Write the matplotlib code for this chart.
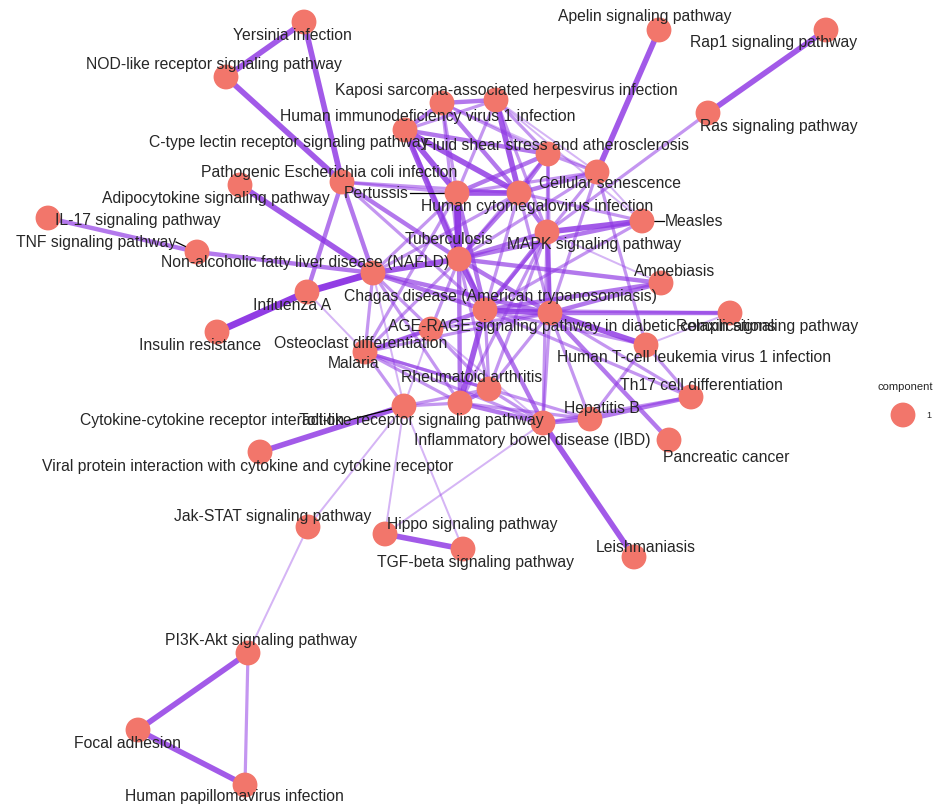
import numpy as np
import matplotlib
matplotlib.use("Agg")
import matplotlib.pyplot as plt
from matplotlib.collections import LineCollection
from matplotlib.colors import to_rgb

# --- noeuds (position du layout, en pixels de l'image) ---
node_ids = ["YER", "NOD", "KSHV", "HIV", "CTL", "FSS", "CSE", "ECO", "ADI", "PER",
            "HCMV", "IL17", "MEA", "MAPK", "TNF", "TB", "NAF", "AMO", "FLU", "CHA",
            "AGE", "REL", "OST", "INS", "HTLV", "MAL", "RA", "TH17", "TLR", "CCR",
            "HBV", "IBD", "PAN", "VPI", "JAK", "HIP", "TGF", "LEI", "PI3K", "FOC",
            "HPV", "APE", "RAP", "RAS"]
node_labels = ["Yersinia infection", "NOD-like receptor signaling pathway",
               "Kaposi sarcoma-associated herpesvirus infection",
               "Human immunodeficiency virus 1 infection",
               "C-type lectin receptor signaling pathway",
               "Fluid shear stress and atherosclerosis", "Cellular senescence",
               "Pathogenic Escherichia coli infection", "Adipocytokine signaling pathway",
               "Pertussis", "Human cytomegalovirus infection", "IL-17 signaling pathway",
               "Measles", "MAPK signaling pathway", "TNF signaling pathway", "Tuberculosis",
               "Non-alcoholic fatty liver disease (NAFLD)", "Amoebiasis", "Influenza A",
               "Chagas disease (American trypanosomiasis)",
               "AGE-RAGE signaling pathway in diabetic complications",
               "Relaxin signaling pathway", "Osteoclast differentiation", "Insulin resistance",
               "Human T-cell leukemia virus 1 infection", "Malaria", "Rheumatoid arthritis",
               "Th17 cell differentiation", "Toll-like receptor signaling pathway",
               "Cytokine-cytokine receptor interaction", "Hepatitis B",
               "Inflammatory bowel disease (IBD)", "Pancreatic cancer",
               "Viral protein interaction with cytokine and cytokine receptor",
               "Jak-STAT signaling pathway", "Hippo signaling pathway",
               "TGF-beta signaling pathway", "Leishmaniasis", "PI3K-Akt signaling pathway",
               "Focal adhesion", "Human papillomavirus infection", "Apelin signaling pathway",
               "Rap1 signaling pathway", "Ras signaling pathway"]
node_x = [304, 226, 496, 442, 405, 548, 597, 342, 240, 457,
          519, 48, 642, 547, 197, 459, 373, 661, 307, 485,
          550, 730, 431, 217, 646, 365, 489, 691, 460, 404,
          590, 543, 669, 260, 308, 385, 463, 634, 248, 138,
          245, 659, 826, 708]
node_y = [22, 77, 100, 103, 130, 154, 172, 182, 185, 193,
          193, 218, 221, 232, 252, 259, 273, 283, 292, 310,
          313, 313, 329, 332, 345, 352, 389, 397, 403, 406,
          419, 423, 440, 452, 527, 534, 549, 557, 653, 730,
          785, 30, 30, 113]

# --- aretes (source, cible, poids) ---
edges = [
    ("YER", "NOD", 4), ("YER", "ECO", 4), ("NOD", "ECO", 4), ("ADI", "NAF", 4),
    ("IL17", "TNF", 3), ("TNF", "NAF", 3), ("INS", "FLU", 5), ("FLU", "NAF", 5),
    ("ECO", "NAF", 3), ("ECO", "FLU", 3), ("ECO", "TB", 3), ("ECO", "PER", 2),
    ("ECO", "CHA", 2), ("ECO", "HCMV", 2),
    ("APE", "CSE", 4), ("RAP", "RAS", 4), ("RAS", "MAPK", 2),
    ("CTL", "HIV", 3), ("CTL", "KSHV", 2), ("CTL", "PER", 4), ("CTL", "HCMV", 4),
    ("CTL", "TB", 4), ("CTL", "FSS", 3), ("CTL", "CHA", 2),
    ("HIV", "KSHV", 3), ("HIV", "HCMV", 3), ("HIV", "PER", 2), ("HIV", "FSS", 2),
    ("HIV", "CSE", 1), ("HIV", "TB", 2),
    ("KSHV", "HCMV", 4), ("KSHV", "FSS", 2), ("KSHV", "CSE", 1), ("KSHV", "MEA", 1),
    ("KSHV", "PER", 2), ("KSHV", "MAPK", 2),
    ("FSS", "HCMV", 3), ("FSS", "PER", 3), ("FSS", "AGE", 2), ("FSS", "TB", 2),
    ("FSS", "MAPK", 2), ("FSS", "CSE", 2),
    ("CSE", "HCMV", 3), ("CSE", "PER", 2), ("CSE", "TB", 2), ("CSE", "CHA", 2),
    ("CSE", "MEA", 1), ("CSE", "HTLV", 2), ("CSE", "AGE", 2),
    ("PER", "HCMV", 4), ("PER", "TB", 5), ("PER", "NAF", 2), ("PER", "CHA", 3),
    ("PER", "MAL", 2),
    ("HCMV", "TB", 3), ("HCMV", "MAPK", 3), ("HCMV", "MEA", 2), ("HCMV", "CHA", 2),
    ("HCMV", "AGE", 2), ("HCMV", "NAF", 2),
    ("MEA", "MAPK", 4), ("MEA", "TB", 3), ("MEA", "CHA", 2),
    ("MAPK", "TB", 3), ("MAPK", "CHA", 3), ("MAPK", "AGE", 3), ("MAPK", "AMO", 1),
    ("MAPK", "RA", 2), ("MAPK", "IBD", 2), ("MAPK", "TLR", 2),
    ("TB", "NAF", 4), ("TB", "CHA", 4), ("TB", "AGE", 3), ("TB", "OST", 2),
    ("TB", "MAL", 2), ("TB", "AMO", 3), ("TB", "TLR", 3), ("TB", "RA", 2),
    ("NAF", "CHA", 3), ("NAF", "AGE", 3), ("NAF", "MAL", 2), ("NAF", "OST", 2),
    ("NAF", "TLR", 2),
    ("AMO", "CHA", 3), ("AMO", "AGE", 3),
    ("CHA", "AGE", 4), ("CHA", "REL", 2), ("CHA", "TLR", 4), ("CHA", "MAL", 3),
    ("CHA", "IBD", 3), ("CHA", "RA", 2), ("CHA", "HTLV", 2), ("CHA", "TH17", 2),
    ("AGE", "REL", 3), ("AGE", "HTLV", 4), ("AGE", "TH17", 2), ("AGE", "HBV", 2),
    ("AGE", "PAN", 3), ("AGE", "RA", 2), ("AGE", "IBD", 2), ("AGE", "MAL", 2),
    ("AGE", "OST", 2),
    ("HTLV", "TH17", 2), ("HTLV", "HBV", 2),
    ("TH17", "HBV", 3), ("TH17", "IBD", 2),
    ("HBV", "IBD", 3), ("HBV", "TLR", 2),
    ("TLR", "IBD", 3), ("TLR", "RA", 3), ("TLR", "CCR", 2), ("TLR", "MAL", 2),
    ("RA", "IBD", 2), ("RA", "CCR", 2), ("RA", "OST", 2), ("RA", "MAL", 2),
    ("IBD", "LEI", 4), ("IBD", "MAL", 2), ("IBD", "OST", 1),
    ("CCR", "VPI", 4), ("CCR", "MAL", 2), ("CCR", "JAK", 1), ("CCR", "HIP", 1),
    ("CCR", "TGF", 1), ("CCR", "OST", 1), ("CCR", "NAF", 1),
    ("JAK", "PI3K", 1), ("HIP", "TGF", 4), ("HIP", "IBD", 1),
    ("PI3K", "FOC", 4), ("PI3K", "HPV", 2), ("FOC", "HPV", 4),
    ("REL", "HTLV", 1), ("OST", "MAL", 2), ("FLU", "MAL", 1), ("MAL", "HBV", 2),
]

# emplacement des etiquettes (centre du texte)
label_pos = {
    "YER": (292, 36), "NOD": (214, 65), "KSHV": (506, 90), "HIV": (428, 117),
    "CTL": (289, 142), "FSS": (556, 145), "CSE": (610, 184), "ECO": (329, 172),
    "ADI": (216, 198), "PER": (376, 193), "HCMV": (537, 207), "IL17": (138, 220),
    "MEA": (694, 222), "MAPK": (594, 244), "TNF": (96, 242), "TB": (449, 240),
    "NAF": (305, 263), "AMO": (675, 271), "FLU": (292, 306), "CHA": (500, 297),
    "AGE": (582, 326), "REL": (767, 326), "OST": (361, 343), "INS": (200, 346),
    "HTLV": (694, 357), "MAL": (354, 364), "RA": (472, 378), "TH17": (701, 386),
    "TLR": (421, 420), "CCR": (212, 420), "HBV": (602, 408), "IBD": (532, 441),
    "PAN": (726, 457), "VPI": (248, 466), "JAK": (273, 516), "HIP": (472, 524),
    "TGF": (476, 563), "LEI": (646, 547), "PI3K": (261, 641), "FOC": (128, 743),
    "HPV": (234, 796), "APE": (645, 16), "RAP": (774, 42), "RAS": (779, 127),
}
# petits traits de renvoi etiquette -> noeud
leaders = {"PER": (410, 193), "MEA": (664, 221), "TNF": (176, 242),
           "TB": (455, 247), "CCR": (345, 421), "IBD": (537, 433)}

pos = {k: (x, y) for k, x, y in zip(node_ids, node_x, node_y)}
lab = dict(zip(node_ids, node_labels))

fig = plt.figure(figsize=(9.53, 8.06), dpi=100)
ax = fig.add_axes([0, 0, 1, 1])
ax.set_xlim(0, 953)
ax.set_ylim(806, 0)
ax.axis("off")

# aretes, les plus fines en dessous
edge_rgb = to_rgb("#8E36E4")
order = sorted(edges, key=lambda e: e[2])
segs = [[pos[a], pos[b]] for a, b, w in order]
cols = [(*edge_rgb, 0.22 + 0.15 * w) for a, b, w in order]
lws = [(0.8 + 1.2 * w) * 0.72 for a, b, w in order]
ax.add_collection(LineCollection(segs, colors=cols, linewidths=lws,
                                 capstyle="round", zorder=1))

for k, (lx, ly) in leaders.items():
    ax.plot([lx, pos[k][0]], [ly, pos[k][1]], color="black", lw=0.9, zorder=2)

ax.scatter(node_x, node_y, s=320, color="#F2766B", edgecolors="none", zorder=3)

for k in node_ids:
    lx, ly = label_pos[k]
    ax.text(lx, ly, lab[k], ha="center", va="center", fontsize=11.3,
            family="Liberation Sans", color="#262626", zorder=4)

# legende
ax.text(878, 387, "component", ha="left", va="center", fontsize=8,
        family="Liberation Sans", color="#262626")
ax.scatter([903], [415], s=320, color="#F2766B", edgecolors="none")
ax.text(926, 416, "1", ha="left", va="center", fontsize=6.5,
        family="Liberation Sans", color="#262626")

fig.savefig("out.png", dpi=100)
